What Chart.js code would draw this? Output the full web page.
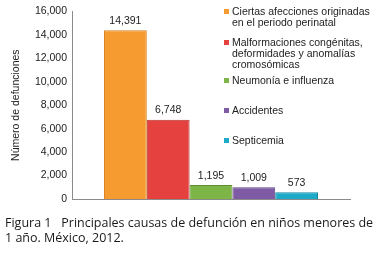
<!DOCTYPE html>
<html>
<head>
<meta charset="utf-8">
<script src="https://cdn.jsdelivr.net/npm/chart.js@4"></script>
<style>
  html, body { margin: 0; padding: 0; background: #fff; }
  #wrap { position: relative; width: 379px; height: 253px; overflow: hidden; }
  #chart { position: absolute; left: 0; top: 0; }
  .leg { position: absolute; left: 232px; font-family: "Liberation Sans", Arial, sans-serif; font-size: 10.5px; line-height: 11px; color: #222; white-space: nowrap; }
  .leg i { position: absolute; left: -8px; top: 3px; width: 5px; height: 5px; }
  #caption { position: absolute; left: 5px; top: 215px; font-family: "Open Sans", sans-serif; font-size: 12.5px; line-height: 15px; color: #1a1a1a; white-space: nowrap; }
</style>
</head>
<body>
<div id="wrap">
  <canvas id="chart" width="379" height="253"></canvas>
  <div id="legend"></div>
  <div id="caption">Figura 1&nbsp;&nbsp; Principales causas de defunción en niños menores de<br>1 año. México, 2012.</div>
</div>
<script>
const causas = [
  ['Ciertas afecciones originadas', 'en el periodo perinatal'],
  ['Malformaciones congénitas,', 'deformidades y anomalías', 'cromosómicas'],
  ['Neumonía e influenza'],
  ['Accidentes'],
  ['Septicemia']
];
const defunciones = [14391, 6748, 1195, 1009, 573];
const colores = ['#F59B2F', '#E5413E', '#7DB547', '#7E5BA4', '#1CAAC8'];
const bordes = ['#D9821C', '#B8302E', '#5F9130', '#5F4284', '#1587A0'];
const yTicks = [0, 2000, 4000, 6000, 8000, 10000, 12000, 14000, 16000];

// legend tops (px) as in the figure
const legendTop = [6, 37, 75, 105, 135];
const legend = document.getElementById('legend');
causas.forEach(function (lines, i) {
  const d = document.createElement('div');
  d.className = 'leg';
  d.style.top = legendTop[i] + 'px';
  d.innerHTML = '<i style="background:' + colores[i] + '"></i>' + lines.join('<br>');
  legend.appendChild(d);
});

const valueLabels = {
  id: 'valueLabels',
  afterDatasetsDraw: function (chart) {
    const ctx = chart.ctx;
    ctx.save();
    ctx.font = '10.5px "Liberation Sans", Arial, sans-serif';
    ctx.fillStyle = '#222';
    ctx.textAlign = 'center';
    ctx.textBaseline = 'bottom';
    chart.data.datasets.forEach(function (ds, i) {
      const bar = chart.getDatasetMeta(i).data[0];
      ctx.fillText(ds.data[0].toLocaleString('en-US'), bar.x, bar.y - 4);
    });
    ctx.restore();
  }
};

const ctx = document.getElementById('chart').getContext('2d');
new Chart(ctx, {
  type: 'bar',
  data: {
    labels: [''],
    datasets: causas.map(function (c, i) {
      return {
        label: c.join(' '),
        data: [defunciones[i]],
        backgroundColor: colores[i],
        borderColor: bordes[i],
        borderWidth: 1,
        categoryPercentage: 0.77,
        barPercentage: 1
      };
    })
  },
  options: {
    responsive: false,
    animation: false,
    layout: { padding: { left: 0, top: 11, right: 29, bottom: 54 } },
    plugins: { legend: { display: false }, tooltip: { enabled: false } },
    scales: {
      x: {
        grid: { display: false, drawTicks: false },
        border: { color: '#8a8a8a', width: 1 },
        ticks: { display: false },
        afterFit: function (s) { s.height = 0; }
      },
      y: {
        min: 0,
        max: 16000,
        afterBuildTicks: function (s) { s.ticks = yTicks.map(function (v) { return { value: v }; }); },
        grid: { display: false, drawTicks: false },
        border: { color: '#8a8a8a', width: 1 },
        ticks: {
          padding: 5,
          color: '#222',
          font: { family: '"Liberation Sans", Arial, sans-serif', size: 10.5 },
          callback: function (v) { return v.toLocaleString('en-US'); }
        },
        title: {
          display: true,
          text: 'Número de defunciones',
          color: '#222',
          font: { family: '"Liberation Sans", Arial, sans-serif', size: 10.5 },
          padding: { top: 10, bottom: 0 }
        },
        afterFit: function (s) { s.width = 72; }
      }
    }
  },
  plugins: [valueLabels]
});
</script>
</body>
</html>
